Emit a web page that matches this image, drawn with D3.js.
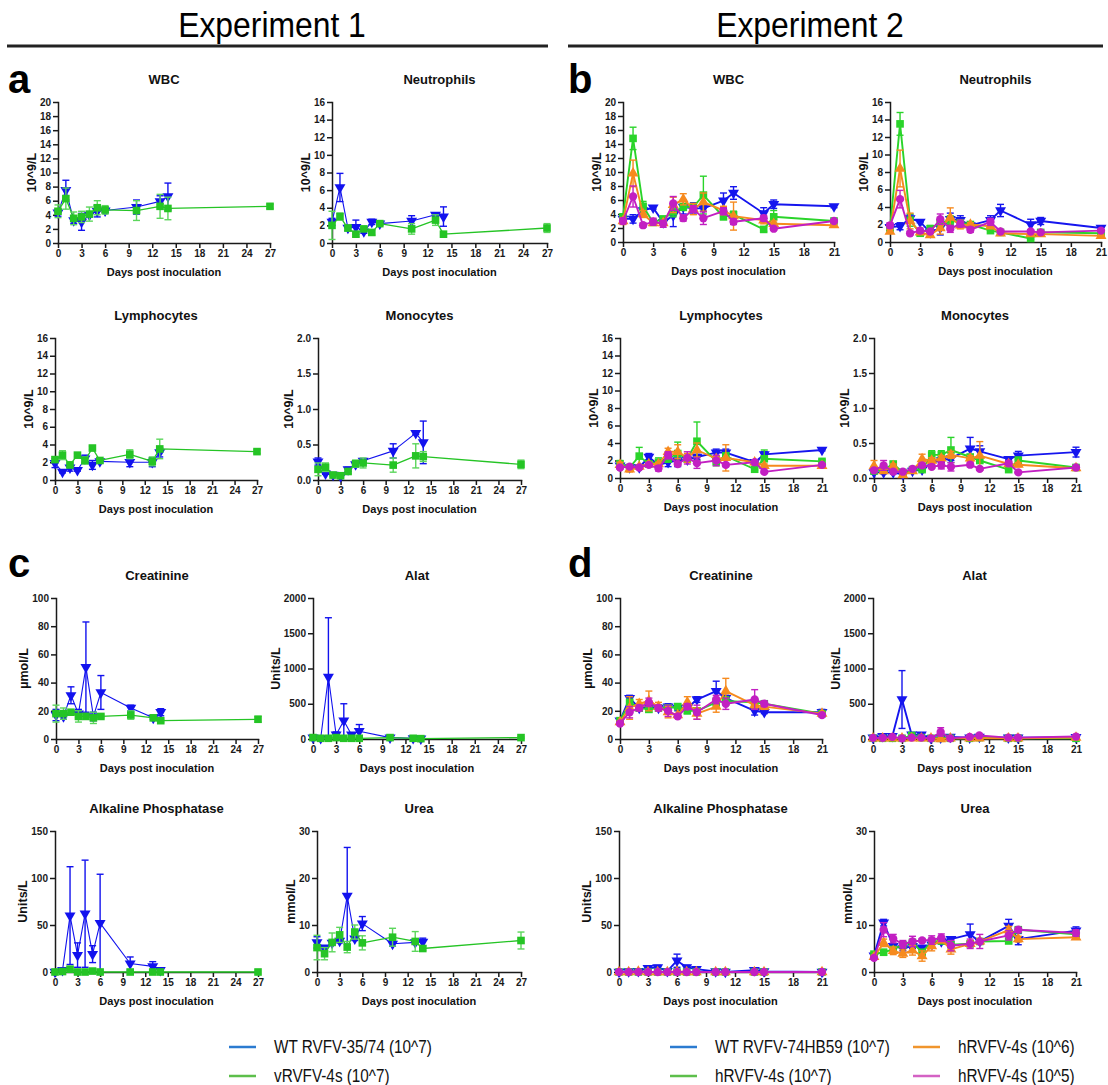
<!DOCTYPE html>
<html><head><meta charset="utf-8">
<script src="https://cdn.jsdelivr.net/npm/d3@7"></script>
<style>
body{margin:0;background:#fff;}
svg{display:block;}
.ax text{font-family:"Liberation Sans",Arial,sans-serif;font-weight:bold;font-size:10px;fill:#1a1a1a;}
.ax path,.ax line{stroke:#1a1a1a;stroke-width:1.5px;}
.ttl{font-family:"Liberation Sans",Arial,sans-serif;font-weight:bold;font-size:13px;fill:#111;}
.lab{font-family:"Liberation Sans",Arial,sans-serif;font-weight:bold;font-size:11px;fill:#111;}
.ylab{font-family:"Liberation Sans",Arial,sans-serif;font-weight:bold;font-size:12.5px;fill:#111;}
.big{font-family:"Liberation Sans",Arial,sans-serif;font-weight:bold;font-size:40px;fill:#000;}
.hdr{font-family:"Liberation Sans",Arial,sans-serif;font-size:35px;fill:#000;}
.leg{font-family:"Liberation Sans",Arial,sans-serif;font-size:18px;fill:#111;}
</style></head><body>
<svg id="c" width="1108" height="1085"></svg>
<script>
// ---------- tick labels ----------
const e1XTicks = [0,3,6,9,12,15,18,21,24,27];
const e2XTicks = [0,3,6,9,12,15,18,21];
const yTicksWbc = [0,2,4,6,8,10,12,14,16,18,20];
const yTicksCell = [0,2,4,6,8,10,12,14,16];
const yTicksMono = [0,0.5,1,1.5,2];
const yTicksCreat = [0,20,40,60,80,100];
const yTicksAlat = [0,500,1000,1500,2000];
const yTicksAlk = [0,50,100,150];
const yTicksUrea = [0,10,20,30];

// ---------- categories ----------
const titles = ["WBC","Neutrophils","Lymphocytes","Monocytes","Creatinine","Alat","Alkaline Phosphatase","Urea"];
const units = ["10^9/L","10^9/L","10^9/L","10^9/L","µmol/L","Units/L","Units/L","mmol/L"];
const legend1 = ["WT RVFV-35/74 (10^7)","vRVFV-4s (10^7)"];
const legend2 = ["WT RVFV-74HB59 (10^7)","hRVFV-4s (10^7)","hRVFV-4s (10^6)","hRVFV-4s (10^5)"];

// ---------- Experiment 1 days ----------
const e1DaysWT = [0,1,2,3,4,5,6,10,13,14];
const e1DaysV  = [0,1,2,3,4,5,6,10,13,14,27];

// ---------- Experiment 1 values (mean, error) ----------
const e1WbcWT = [4.3,7.5,3.2,3.0,4.0,4.5,4.6,5.1,5.9,6.6];
const e1WbcWTErr = [0.5,1.4,0.4,1.2,0.3,0.8,0.3,1.0,0.8,1.9];
const e1WbcV = [4.5,6.3,3.5,3.7,4.1,5.0,4.7,4.6,5.2,4.9,5.2];
const e1WbcVErr = [0.9,1.5,0.9,0.8,1.0,1.0,0.6,1.4,1.7,1.6,0.3];

const e1NeuWT = [2.4,6.3,1.7,1.8,1.3,2.4,2.2,2.5,3.2,3.0];
const e1NeuWTErr = [0.4,1.6,0.3,0.8,0.2,0.3,0.2,0.6,0.2,1.1];
const e1NeuV = [2.0,3.0,1.7,1.0,1.6,1.2,2.2,1.6,2.6,1.0,1.7];
const e1NeuVErr = [1.6,0.4,0.3,0.3,0.2,0.3,0.2,0.6,0.6,0.1,0.5];

const e1LymWT = [1.9,0.9,1.4,1.1,2.4,1.7,2.1,2.0,2.0,3.1];
const e1LymWTErr = [0.5,0.1,0.4,0.1,0.4,0.5,0.2,0.5,0.5,0.5];
const e1LymV = [2.3,2.8,1.7,2.8,2.2,3.6,2.2,2.9,2.1,3.5,3.2];
const e1LymVErr = [0.3,0.5,0.3,0.2,0.4,0.2,0.2,0.5,0.5,1.1,0.2];

const e1MonWT = [0.26,0.09,0.07,0.05,0.15,0.22,0.27,0.41,0.66,0.53];
const e1MonWTErr = [0.05,0.01,0.01,0.01,0.03,0.04,0.03,0.1,0.02,0.3];
const e1MonV = [0.15,0.18,0.07,0.06,0.12,0.23,0.24,0.21,0.34,0.33,0.22];
const e1MonVErr = [0.09,0.06,0.02,0.02,0.03,0.05,0.07,0.1,0.17,0.07,0.06];

const e1CreWT = [17,16,31,18,51,16,33,22,15,19];
const e1CreWTErr = [4,2,6,3,32,3,12,2,1,2.5];
const e1CreV = [18,18,19,16,16,15,16,17,15,13,14];
const e1CreVErr = [6,4,1,4,2,4,1,3,1,1,2];

const e1AlaWT = [20,10,880,60,260,60,110,20,10,5];
const e1AlaWTErr = [20,5,840,40,240,20,95,10,5,5];
const e1AlaV = [20,10,10,20,10,10,10,20,10,5,20];
const e1AlaVErr = [20,5,5,10,5,5,5,10,5,3,10];

const e1AlkWT = [0,2,60,18,62,19,52,9,6,2];
const e1AlkWTErr = [0.5,2,52,13,57,9,52,7,5,2];
const e1AlkV = [0,0.5,3,0,0,1,0,0,0,0,0];
const e1AlkVErr = [0,0.5,2,0,0,1,0,0,0,0,0];

const e1UreWT = [6.3,5.2,6.2,6.6,16.2,7.1,10.3,6.0,6.3,6.4];
const e1UreWTErr = [1.2,0.3,0.3,0.4,10.3,0.4,1.5,0.5,0.3,0.8];
const e1UreV = [5.2,3.9,6.3,7.9,5.3,8.5,6.2,7.4,6.5,5.0,6.7];
const e1UreVErr = [2.6,1.3,2.0,1.6,1.2,1.5,1.5,1.9,2.1,0.4,1.8];

// ---------- Experiment 2 days ----------
const e2Days = [0,1,2,3,4,5,6,7,8,10,11,14,15,21];

// ---------- Experiment 2 values ----------
const e2WbcWT = [3.3,3.3,4.5,4.9,2.8,3.8,5.0,4.8,4.8,5.9,7.0,4.1,5.4,5.1];
const e2WbcWTErr = [0.5,0.6,0.5,0.2,0.3,1.6,1.0,0.8,0.4,1.1,0.9,0.8,0.6,0.2];
const e2WbcH7 = [3.6,14.8,5.1,2.8,3.3,4.3,5.0,5.0,6.7,3.6,3.9,1.8,3.6,3.0];
const e2WbcH7Err = [0.4,1.6,0.7,0.3,0.3,0.7,0.5,0.5,2.7,0.4,0.5,0.3,0.9,0.2];
const e2WbcH6 = [3.0,9.8,4.0,2.7,2.7,5.3,6.1,4.7,5.7,4.5,3.7,3.1,2.6,2.4];
const e2WbcH6Err = [0.5,1.9,0.5,0.3,0.3,1.1,0.8,0.8,1.3,0.6,2.0,0.5,0.4,0.3];
const e2WbcH5 = [3.0,6.5,2.4,2.9,2.6,5.5,3.4,4.7,3.4,4.4,2.9,3.4,1.9,3.0];
const e2WbcH5Err = [0.4,1.5,0.3,0.5,0.5,1.0,0.4,0.5,0.9,0.5,0.4,0.4,0.2,0.2];

const e2NeuWT = [1.7,1.8,2.7,2.3,1.1,1.6,2.6,2.5,1.9,2.5,3.6,2.0,2.4,1.6];
const e2NeuWTErr = [0.4,0.4,0.4,0.1,0.1,0.8,0.7,0.5,0.2,0.5,0.7,0.6,0.4,0.2];
const e2NeuH7 = [1.6,13.5,2.5,1.0,1.5,2.2,2.5,2.2,2.0,1.3,1.1,0.4,1.1,1.0];
const e2NeuH7Err = [0.3,1.3,0.7,0.2,0.4,0.3,0.5,0.3,0.2,0.2,0.1,0.1,0.1,0.1];
const e2NeuH6 = [1.2,8.4,2.4,1.1,0.8,1.6,2.8,1.9,2.0,1.8,1.0,0.9,0.9,0.7];
const e2NeuH6Err = [0.2,2.1,0.9,0.2,0.2,0.7,1.1,0.4,0.2,0.2,0.1,0.1,0.1,0.1];
const e2NeuH5 = [1.9,4.9,1.0,1.3,1.2,2.6,1.5,2.1,1.4,2.3,1.2,1.2,1.1,1.3];
const e2NeuH5Err = [0.3,1.0,0.2,0.3,0.1,0.6,0.4,0.4,0.3,0.4,0.1,0.1,0.1,0.1];

const e2LymWT = [1.4,1.2,1.2,2.4,1.5,1.8,2.0,2.1,2.4,2.9,2.9,1.8,2.7,3.2];
const e2LymWTErr = [0.2,0.2,0.2,0.4,0.2,0.5,0.7,0.3,0.3,0.4,0.4,0.2,0.3,0.1];
const e2LymH7 = [1.6,1.2,2.5,1.6,1.8,2.2,2.8,2.2,4.2,1.9,2.5,1.0,2.2,1.9];
const e2LymH7Err = [0.4,0.3,1.0,0.3,0.5,0.4,1.3,0.4,2.2,0.5,0.4,0.1,1.0,0.2];
const e2LymH6 = [1.5,1.0,1.3,1.6,1.6,3.0,3.0,2.3,3.2,2.2,2.3,1.8,1.4,1.4];
const e2LymH6Err = [0.3,0.3,0.2,0.2,0.2,0.4,0.8,0.5,0.8,0.3,1.5,0.2,0.2,0.2];
const e2LymH5 = [1.2,1.3,1.2,1.5,1.1,2.6,1.6,2.3,1.7,2.0,1.5,1.8,0.7,1.5];
const e2LymH5Err = [0.2,0.2,0.2,0.2,0.3,0.4,0.2,0.7,0.6,0.6,0.2,0.2,0.1,0.1];

const e2MonWT = [0.08,0.08,0.08,0.05,0.10,0.12,0.22,0.25,0.28,0.42,0.38,0.27,0.32,0.37];
const e2MonWTErr = [0.02,0.02,0.02,0.01,0.02,0.02,0.03,0.03,0.03,0.16,0.08,0.02,0.06,0.07];
const e2MonH7 = [0.10,0.12,0.20,0.08,0.12,0.12,0.33,0.33,0.40,0.30,0.25,0.12,0.25,0.15];
const e2MonH7Err = [0.02,0.03,0.03,0.01,0.02,0.02,0.06,0.06,0.18,0.03,0.03,0.02,0.05,0.02];
const e2MonH6 = [0.17,0.10,0.17,0.04,0.10,0.27,0.25,0.28,0.33,0.28,0.32,0.20,0.19,0.14];
const e2MonH6Err = [0.08,0.02,0.03,0.02,0.02,0.07,0.04,0.04,0.05,0.04,0.20,0.03,0.03,0.02];
const e2MonH5 = [0.11,0.18,0.09,0.09,0.13,0.18,0.16,0.18,0.16,0.19,0.13,0.21,0.08,0.15];
const e2MonH5Err = [0.02,0.07,0.02,0.01,0.02,0.03,0.02,0.05,0.06,0.03,0.02,0.03,0.01,0.02];

const e2CreWT = [13,29,22,23,22,23,22,22,28,34,29,20,19,19];
const e2CreWTErr = [1,2,2,2,2,2,2,2,2,7,2,3,1,2];
const e2CreH7 = [13,26,22,21,22,22,23,20,20,26,27,26,25,18];
const e2CreH7Err = [1,2,2,2,2,2,2,2,2,3,3,2,2,1];
const e2CreH6 = [12,22,25,27,23,19,17,26,18,23,34,24,23,18];
const e2CreH6Err = [1,8,3,7,3,4,1,4,4,4,9,2,2,1];
const e2CreH5 = [11,19,22,26,22,20,16,23,19,28,25,28,25,17];
const e2CreH5Err = [1,4,2,3,2,4,1,2,5,3,4,7,2,1];

const e2AlaWT = [20,40,40,560,60,60,10,20,30,20,30,20,20,25];
const e2AlaWTErr = [10,20,20,410,20,20,5,10,10,10,10,10,10,10];
const e2AlaH7 = [10,10,10,10,50,20,10,10,10,10,20,10,10,10];
const e2AlaH7Err = [5,5,5,5,10,10,5,5,5,5,5,5,5,5];
const e2AlaH6 = [10,10,10,10,10,10,10,0,10,10,10,10,10,20];
const e2AlaH6Err = [5,5,5,5,5,5,5,5,5,5,5,5,5,5];
const e2AlaH5 = [15,15,30,10,20,20,10,100,10,30,50,20,20,35];
const e2AlaH5Err = [5,5,10,5,5,5,5,60,5,10,10,5,5,10];

const e2AlkWT = [0,0.5,1,4,5,1,12,5,3,0.5,0,2,0.5,0];
const e2AlkWTErr = [0,0.5,1,2,2,1,7,2,2,0.5,0,2,0.5,0];
const e2AlkH7 = [0,0,0,0,0,0,0,0,0,0,0,0,0,0];
const e2AlkH7Err = [0,0,0,0,0,0,0,0,0,0,0,0,0,0];
const e2AlkH6 = [0,0,0.5,0,0,0,0.5,0,0,0,0,0,0,0];
const e2AlkH6Err = [0,0,0.5,0,0,0,0.5,0,0,0,0,0,0,0];
const e2AlkH5 = [0,0,0,0,0,0,0,0,0,0,0,0,0,0];
const e2AlkH5Err = [0,0,0,0,0,0,0,0,0,0,0,0,0,0];

const e2UreWT = [3.5,10.5,5.5,5.0,5.5,5.2,5.8,6.5,7.0,8.0,6.5,9.8,7.0,8.8];
const e2UreWTErr = [0.4,0.7,0.5,0.5,0.5,0.4,0.5,0.5,0.5,2.2,0.5,1.4,1.2,0.8];
const e2UreH7 = [3.8,4.2,4.8,5.8,6.3,4.2,6.5,6.6,5.8,6.0,6.5,6.6,9.0,8.0];
const e2UreH7Err = [0.4,0.6,0.5,0.5,0.6,0.5,0.6,0.5,0.5,0.5,0.5,0.4,0.5,0.4];
const e2UreH6 = [3.2,6.2,4.5,3.9,4.6,3.4,5.5,6.8,4.8,6.0,6.5,8.9,7.0,7.4];
const e2UreH6Err = [0.4,0.8,0.8,0.8,1.0,1.1,1.0,0.6,1.0,0.6,0.6,0.8,0.6,0.4];
const e2UreH5 = [3.0,9.0,7.1,5.9,6.5,6.7,6.8,7.3,5.6,6.0,6.5,7.8,9.0,8.3];
const e2UreH5Err = [0.3,1.5,0.9,0.8,1.1,0.4,0.9,0.8,1.1,1.0,1.5,1.0,0.5,0.7];

// ---------- styles ----------
const styles = {
  wt1:{color:"#1212ee", err:"#1212ee", sym:"down", lw:1.1},
  v1: {color:"#25c425", err:"#5cd65c", sym:"square", lw:1.3},
  wt2:{color:"#1515ee", err:"#1515ee", sym:"down", lw:1.9},
  h7: {color:"#2ad42a", err:"#2ad42a", sym:"square", lw:1.9},
  h6: {color:"#f68a1e", err:"#f68a1e", sym:"up", lw:1.9},
  h5: {color:"#c21fc2", err:"#c21fc2", sym:"circle", lw:1.9}
};
const legendColors1 = ["#2b7bd0","#5dbf4b"];
const legendColors2 = ["#2b7bd0","#5dbf4b","#f0952d","#d462c4"];

// ---------- layout ----------
const rowTop = [102,338,598,831];
const rowBot = [243,480,739,972];
const rowBot2 = [242,478,739,972];
const e1Geo = [[58,270],[332,547],[55,257],[318,521],[56,258],[313,521],[55,258],[317,521]];
const e2Geo = [[623,834],[890,1101],[620,822],[874,1076],[620,822],[873,1076],[619,822],[874,1076]];
const yTickSets = [yTicksWbc,yTicksCell,yTicksCell,yTicksMono,yTicksCreat,yTicksAlat,yTicksAlk,yTicksUrea];

const e1Series = [
  [[e1WbcWT,e1WbcWTErr],[e1WbcV,e1WbcVErr]],
  [[e1NeuWT,e1NeuWTErr],[e1NeuV,e1NeuVErr]],
  [[e1LymWT,e1LymWTErr],[e1LymV,e1LymVErr]],
  [[e1MonWT,e1MonWTErr],[e1MonV,e1MonVErr]],
  [[e1CreWT,e1CreWTErr],[e1CreV,e1CreVErr]],
  [[e1AlaWT,e1AlaWTErr],[e1AlaV,e1AlaVErr]],
  [[e1AlkWT,e1AlkWTErr],[e1AlkV,e1AlkVErr]],
  [[e1UreWT,e1UreWTErr],[e1UreV,e1UreVErr]]
];
const e2Series = [
  [[e2WbcWT,e2WbcWTErr],[e2WbcH7,e2WbcH7Err],[e2WbcH6,e2WbcH6Err],[e2WbcH5,e2WbcH5Err]],
  [[e2NeuWT,e2NeuWTErr],[e2NeuH7,e2NeuH7Err],[e2NeuH6,e2NeuH6Err],[e2NeuH5,e2NeuH5Err]],
  [[e2LymWT,e2LymWTErr],[e2LymH7,e2LymH7Err],[e2LymH6,e2LymH6Err],[e2LymH5,e2LymH5Err]],
  [[e2MonWT,e2MonWTErr],[e2MonH7,e2MonH7Err],[e2MonH6,e2MonH6Err],[e2MonH5,e2MonH5Err]],
  [[e2CreWT,e2CreWTErr],[e2CreH7,e2CreH7Err],[e2CreH6,e2CreH6Err],[e2CreH5,e2CreH5Err]],
  [[e2AlaWT,e2AlaWTErr],[e2AlaH7,e2AlaH7Err],[e2AlaH6,e2AlaH6Err],[e2AlaH5,e2AlaH5Err]],
  [[e2AlkWT,e2AlkWTErr],[e2AlkH7,e2AlkH7Err],[e2AlkH6,e2AlkH6Err],[e2AlkH5,e2AlkH5Err]],
  [[e2UreWT,e2UreWTErr],[e2UreH7,e2UreH7Err],[e2UreH6,e2UreH6Err],[e2UreH5,e2UreH5Err]]
];

const svg = d3.select("#c");

// header
svg.append("text").attr("class","hdr").attr("transform","translate(272,37) scale(0.91,1)").attr("text-anchor","middle").text("Experiment 1");
svg.append("text").attr("class","hdr").attr("transform","translate(810,37) scale(0.91,1)").attr("text-anchor","middle").text("Experiment 2");
svg.append("line").attr("x1",7).attr("x2",548).attr("y1",46).attr("y2",46).attr("stroke","#222").attr("stroke-width",3);
svg.append("line").attr("x1",568).attr("x2",1103).attr("y1",46).attr("y2",46).attr("stroke","#222").attr("stroke-width",3);

// panel letters
[["a",8,93],["b",568,93],["c",8,577],["d",568,577]].forEach(([t,x,y])=>{
  svg.append("text").attr("class","big").attr("x",x).attr("y",y).text(t);
});

const symTypes = {down:d3.symbolTriangle, up:d3.symbolTriangle, square:d3.symbolSquare, circle:d3.symbolCircle};
const symSizes = {down:52, up:52, square:58, circle:54};

function drawPanel(i, x0, x1, yTop, yBot, xTicks, daysList, seriesList, styleKeys){
  const yTicks = yTickSets[i];
  const x = d3.scaleLinear().domain([0, xTicks[xTicks.length-1]]).range([x0, x1]);
  const y = d3.scaleLinear().domain([0, yTicks[yTicks.length-1]]).range([yBot, yTop]);
  const g = svg.append("g");
  const fmt = (i===3) ? d3.format(".1f") : d3.format("d");
  const ya = g.append("g").attr("class","ax").attr("transform",`translate(${x0},0)`)
    .call(d3.axisLeft(y).tickValues(yTicks).tickSize(5).tickSizeOuter(0).tickPadding(2).tickFormat(fmt));
  g.append("g").attr("class","ax").attr("transform",`translate(0,${yBot})`)
    .call(d3.axisBottom(x).tickValues(xTicks).tickSize(5).tickSizeOuter(0).tickPadding(2).tickFormat(d3.format("d")));
  g.selectAll(".ax path.domain").attr("stroke-linecap","square");
  g.append("text").attr("class","ttl").attr("x",(x0+x1)/2).attr("y",yTop-18).attr("text-anchor","middle").text(titles[i]);
  g.append("text").attr("class","lab").attr("x",(x0+x1)/2).attr("y",yBot+33).attr("text-anchor","middle").text("Days post inoculation");
  const bb = ya.node().getBBox();
  const lx = x0 + bb.x - 4;
  const cy = (yTop+yBot)/2;
  g.append("text").attr("class","ylab").attr("transform",`translate(${lx},${cy}) rotate(-90)`).attr("text-anchor","middle").text(units[i]);

  seriesList.forEach((s, k)=>{
    const st = styles[styleKeys[k]];
    const days = daysList[k];
    const pts = days.map((d,j)=>({d:d, m:s[0][j], e:s[1][j]}));
    const sg = g.append("g");
    sg.append("path").datum(pts)
      .attr("d", d3.line().x(p=>x(p.d)).y(p=>y(p.m)))
      .attr("fill","none").attr("stroke",st.color).attr("stroke-width",st.lw).attr("stroke-linejoin","round");
    pts.forEach(p=>{
      if(p.e<=0) return;
      const lo = Math.max(0, p.m-p.e), hi = p.m+p.e;
      const px = x(p.d);
      sg.append("line").attr("x1",px).attr("x2",px).attr("y1",y(lo)).attr("y2",y(hi))
        .attr("stroke",st.err).attr("stroke-width",1.4);
      sg.append("line").attr("x1",px-3.5).attr("x2",px+3.5).attr("y1",y(hi)).attr("y2",y(hi))
        .attr("stroke",st.err).attr("stroke-width",1.4);
      if(p.m-p.e>0){
        sg.append("line").attr("x1",px-3.5).attr("x2",px+3.5).attr("y1",y(lo)).attr("y2",y(lo))
          .attr("stroke",st.err).attr("stroke-width",1.4);
      }
    });
    sg.selectAll("path.mk").data(pts).enter().append("path").attr("class","mk")
      .attr("d", d3.symbol().type(symTypes[st.sym]).size(symSizes[st.sym]))
      .attr("transform", p=>`translate(${x(p.d)},${y(p.m)})` + (st.sym==="down" ? " rotate(180)" : ""))
      .attr("fill", st.color);
  });
}

for(let i=0;i<8;i++){
  const r = Math.floor(i/2);
  drawPanel(i, e1Geo[i][0], e1Geo[i][1], rowTop[r], rowBot[r], e1XTicks,
    [e1DaysWT, e1DaysV], e1Series[i], ["wt1","v1"]);
  drawPanel(i, e2Geo[i][0], e2Geo[i][1], rowTop[r], rowBot2[r], e2XTicks,
    [e2Days, e2Days, e2Days, e2Days], e2Series[i], ["wt2","h7","h6","h5"]);
}

// legends
const legRows = [1047, 1076];
function legItem(x, y, color, label){
  svg.append("line").attr("x1",x).attr("x2",x+27).attr("y1",y).attr("y2",y).attr("stroke",color).attr("stroke-width",2.5);
  svg.append("text").attr("class","leg").attr("transform",`translate(${x+45},${y+6}) scale(0.85,1)`).text(label);
}
legItem(229, legRows[0], legendColors1[0], legend1[0]);
legItem(229, legRows[1], legendColors1[1], legend1[1]);
legItem(670, legRows[0], legendColors2[0], legend2[0]);
legItem(670, legRows[1], legendColors2[1], legend2[1]);
legItem(913, legRows[0], legendColors2[2], legend2[2]);
legItem(913, legRows[1], legendColors2[3], legend2[3]);
</script>
</body></html>
